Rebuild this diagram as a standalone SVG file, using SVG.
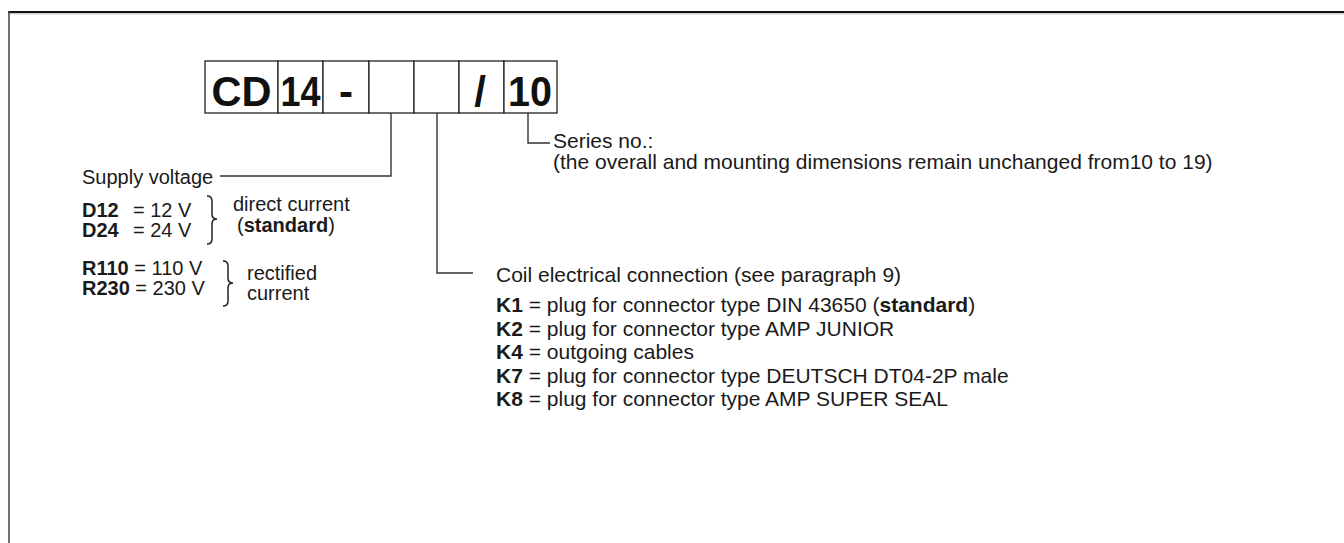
<svg xmlns="http://www.w3.org/2000/svg" width="1344" height="543" viewBox="0 0 1344 543">
<style>
text{font-family:"Liberation Sans",Arial,sans-serif;fill:#1a1a1a;font-size:20px}
.r{font-size:21px}
.b{font-weight:bold}
.code{font-size:42px;font-weight:bold;text-anchor:middle;fill:#111}
.cell{fill:#fff;stroke:#222;stroke-width:1.3}
.ln{fill:none;stroke:#333;stroke-width:1.4}
.br{fill:none;stroke:#222;stroke-width:1.5}
</style>
<rect x="0" y="0" width="1344" height="543" fill="#fff"/>
<g id="frame">
<line x1="8" y1="12" x2="1344" y2="12" stroke="#111" stroke-width="2"/>
<line x1="8" y1="13.8" x2="1344" y2="13.8" stroke="#bbb" stroke-width="1"/>
<line x1="9" y1="11" x2="9" y2="543" stroke="#444" stroke-width="1.5"/>
</g>
<g id="code-boxes">
<rect class="cell" x="205" y="61" width="73" height="52"/>
<rect class="cell" x="278" y="61" width="45" height="52"/>
<rect class="cell" x="323" y="61" width="46" height="52"/>
<rect class="cell" x="369" y="61" width="45" height="52"/>
<rect class="cell" x="414" y="61" width="45" height="52"/>
<rect class="cell" x="459" y="61" width="45" height="52"/>
<rect class="cell" x="504" y="61" width="53" height="52"/>
<text class="code" x="241.5" y="106" textLength="60" lengthAdjust="spacingAndGlyphs">CD</text>
<text class="code" x="300.5" y="106" textLength="40" lengthAdjust="spacingAndGlyphs">14</text>
<text class="code" x="346" y="106">-</text>
<text class="code" x="480" y="106">/</text>
<text class="code" x="530" y="106" textLength="44" lengthAdjust="spacingAndGlyphs">10</text>
</g>
<g id="connectors">
<polyline class="ln" points="391,113 391,176 220,176"/>
<polyline class="ln" points="437,113 437,273 473,273"/>
<polyline class="ln" points="528,113 528,143 550,143"/>
</g>
<g id="supply-voltage">
<text x="82" y="184">Supply voltage</text>
<text x="82" y="217" class="b">D12</text>
<text x="133" y="217">= 12 V</text>
<text x="82" y="237" class="b">D24</text>
<text x="133" y="237">= 24 V</text>
<path class="br" d="M207,196 q5,0 5,5 v13 q0,5 5,5 q-5,0 -5,5 v15 q0,5 -5,5"/>
<text x="233" y="211">direct current</text>
<text x="237" y="232">(<tspan class="b">standard</tspan>)</text>
<text x="82" y="275"><tspan class="b">R110</tspan> = 110 V</text>
<text x="82" y="295"><tspan class="b">R230</tspan> = 230 V</text>
<path class="br" d="M223,261 q5,0 5,5 v12 q0,5 5,5 q-5,0 -5,5 v13 q0,5 -5,5"/>
<text x="247" y="280">rectified</text>
<text x="247" y="300">current</text>
</g>
<g id="coil-connection">
<text class="r" x="496" y="282">Coil electrical connection (see paragraph 9)</text>
<text class="r" x="496" y="312"><tspan class="b">K1</tspan> = plug for connector type DIN 43650 (<tspan class="b">standard</tspan>)</text>
<text class="r" x="496" y="336"><tspan class="b">K2</tspan> = plug for connector type AMP JUNIOR</text>
<text class="r" x="496" y="359"><tspan class="b">K4</tspan> = outgoing cables</text>
<text class="r" x="496" y="383"><tspan class="b">K7</tspan> = plug for connector type DEUTSCH DT04-2P male</text>
<text class="r" x="496" y="406"><tspan class="b">K8</tspan> = plug for connector type AMP SUPER SEAL</text>
</g>
<g id="series">
<text class="r" x="553" y="148">Series no.:</text>
<text class="r" x="553" y="169">(the overall and mounting dimensions remain unchanged from10 to 19)</text>
</g>
</svg>
